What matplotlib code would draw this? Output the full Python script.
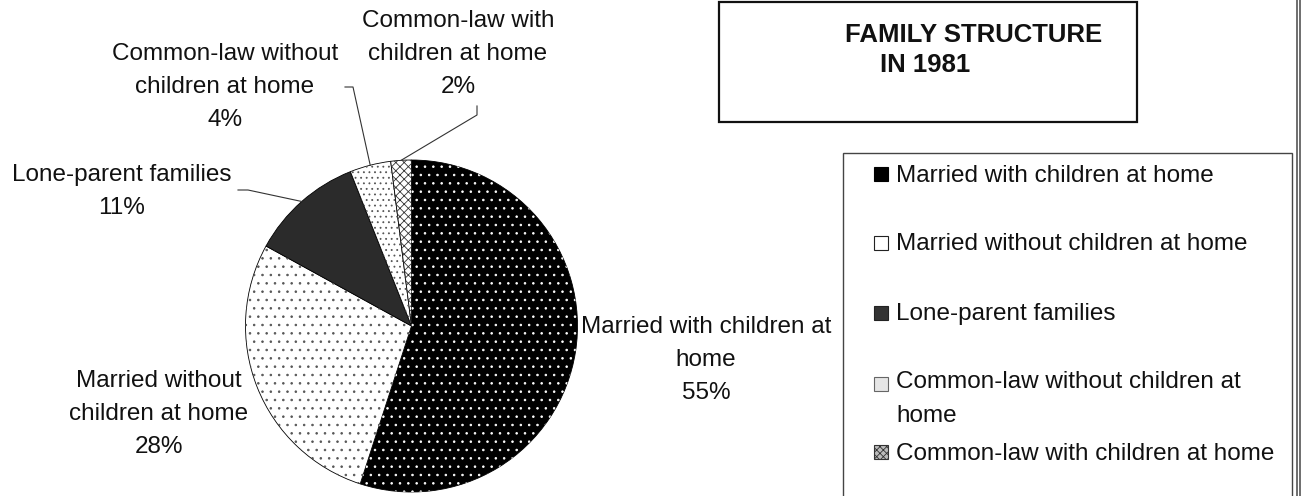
import matplotlib
matplotlib.use('Agg')
import matplotlib.pyplot as plt
from matplotlib.patches import Rectangle
import numpy as np

# ---- data ----
categories = ["Married with children at home",
              "Married without children at home",
              "Lone-parent families",
              "Common-law without children at home",
              "Common-law with children at home"]
shares = [55, 28, 11, 4, 2]
slice_labels = ["Married with children at\nhome",
                "Married without\nchildren at home",
                "Lone-parent families",
                "Common-law without\nchildren at home",
                "Common-law with\nchildren at home"]
legend_labels = ["Married with children at home",
                 "Married without children at home",
                 "Lone-parent families",
                 "Common-law without children at\nhome",
                 "Common-law with children at home"]
title_lines = ["FAMILY STRUCTURE", "IN 1981"]

W, H = 1303, 496
plt.rcParams['font.family'] = ['Liberation Sans', 'DejaVu Sans']
plt.rcParams['hatch.linewidth'] = 0.6

fig = plt.figure(figsize=(W / 100, H / 100), dpi=100)
ax = fig.add_axes([0, 0, 1, 1])


def Y(y):
    return H - y


FS = 17.5
LS = 1.66

# ---- pie ----
cx, cy, R = 411.5, Y(326), 166
fills = ['black', 'white', '#2b2b2b', 'white', 'white']
wedges, _ = ax.pie(shares, startangle=90, counterclock=False, center=(cx, cy),
                   radius=R, colors=fills,
                   wedgeprops=dict(edgecolor='black', linewidth=0.6), frame=False)
hatches = ['..', '..', '', '...', 'xxxx']
hcolors = ['white', '#555555', 'none', '#555555', '#333333']
hw, _ = ax.pie(shares, startangle=90, counterclock=False, center=(cx, cy),
               radius=R, colors=['none'] * 5,
               wedgeprops=dict(linewidth=0), frame=False)
for w, h, c in zip(hw, hatches, hcolors):
    w.set_hatch(h)
    w.set_edgecolor(c)
    w.set_linewidth(0)

# ---- slice labels ----
label_pos = [(706, 360), (159, 414), (122, 191.5), (225, 87), (458, 54)]
for lab, v, (x, y) in zip(slice_labels, shares, label_pos):
    ax.text(x, Y(y), f"{lab}\n{v}%", ha='center', va='center', fontsize=FS,
            linespacing=LS, color='#111111')

# leader lines
leader_starts = {2: [(238, 190), (248, 190)],
                 3: [(345, 87), (353, 87)],
                 4: [(477, 106), (477, 115)]}
for i, pts in leader_starts.items():
    w = wedges[i]
    mid = np.deg2rad((w.theta1 + w.theta2) / 2)
    ex, ey = cx + R * np.cos(mid), cy + R * np.sin(mid)
    xs = [p[0] for p in pts] + [ex]
    ys = [Y(p[1]) for p in pts] + [ey]
    ax.plot(xs, ys, color='#333333', lw=0.8)

# ---- title box ----
ax.add_patch(Rectangle((719, Y(122)), 1137 - 719, 120, fill=False,
                       edgecolor='#111111', lw=1.6))
ax.text(845, Y(42), title_lines[0], fontsize=18.5, fontweight='bold',
        ha='left', va='baseline', color='#111111')
ax.text(880, Y(72), title_lines[1], fontsize=18.5, fontweight='bold',
        ha='left', va='baseline', color='#111111')

# ---- legend box ----
ax.add_patch(Rectangle((843, Y(520)), 1292 - 843, 520 - 153, fill=False,
                       edgecolor='#444444', lw=1.0))
sw_tops = [167, 236, 306, 377, 445]
sw_face = ['black', 'white', '#333333', '#e6e6e6', '#bbbbbb']
sw_edge = ['black', '#222222', '#222222', '#666666', '#333333']
sw_hatch = [None, None, None, None, 'xxxxx']
for t, f, e, hh in zip(sw_tops, sw_face, sw_edge, sw_hatch):
    ax.add_patch(Rectangle((874, Y(t + 14)), 14, 14, facecolor=f,
                           edgecolor=e, lw=0.8, hatch=hh))
leg_y = [176, 244, 314, 399, 454]
for lab, y in zip(legend_labels, leg_y):
    ax.text(896, Y(y), lab, fontsize=FS, ha='left', va='center',
            linespacing=LS, color='#111111')

# right frame double line
for x in (1296.5, 1300):
    ax.plot([x, x], [0, H], color='#555555', lw=1.2)

ax.set_xlim(0, W)
ax.set_ylim(0, H)
ax.set_aspect('equal')
ax.axis('off')
fig.savefig('out.png', dpi=100)
